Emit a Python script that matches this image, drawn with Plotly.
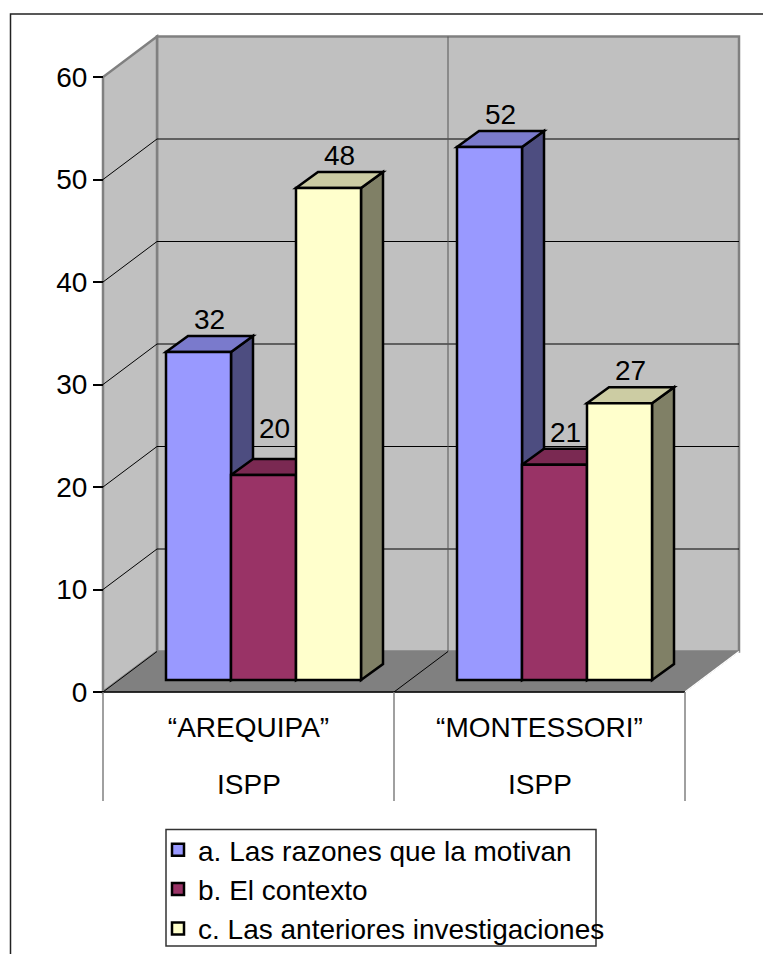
import plotly.graph_objects as go

W, H = 763, 954
categories = ["“AREQUIPA”", "“MONTESSORI”"]
subcategory = ["ISPP", "ISPP"]
series_names = ["a. Las razones que la motivan", "b. El contexto", "c. Las anteriores investigaciones"]
series_a = [32, 52]
series_b = [20, 21]
series_c = [48, 27]
y_ticks = [0, 10, 20, 30, 40, 50, 60]

front = ["#9999FF", "#993366", "#FFFFCC"]
side = ["#4D4D80", "#4D1A33", "#808066"]
top = ["#7A7ACC", "#7A2952", "#CCCCA3"]
FONT = "Liberation Sans, Arial, sans-serif"
FS = 28

# Scale of the front plane
X0, CAT_W = 103, 291      # pixel of the front-left corner, width of a category
Y0, UNIT = 692, 10.25     # pixel of value 0, pixels per value unit
DOM_L, DOM_R, DOM_B, DOM_T = 95, 746, 697, 30


def dx(p):
    return p / CAT_W


def dy(p):
    return p / UNIT


xr = [-0.5 + dx(DOM_L - X0), -0.5 + dx(DOM_R - X0)]
yr = [dy(Y0 - DOM_B), dy(Y0 - DOM_T)]
WALL_X, WALL_Y = dx(54), dy(40.5)       # wall depth
BAR_OX, BAR_OY = dx(15), dy(12)         # bar set-back from the front plane
BAR_DX, BAR_DY = dx(22), dy(16)         # bar depth
BW = dx(65)
XL, XR = -0.5, 1.5
YMAX = y_ticks[-1]


def poly(pts, fill, line="black", lw=1):
    path = "M" + "L".join(f"{x:.5f},{y:.5f}" for x, y in pts) + "Z"
    return dict(type="path", path=path, xref="x", yref="y", fillcolor=fill, layer="below",
                line=dict(color=line, width=lw))


def seg(x1, y1, x2, y2, color="black", lw=1):
    return dict(type="line", x0=x1, y0=y1, x1=x2, y1=y2, xref="x", yref="y", layer="below",
                line=dict(color=color, width=lw))


shapes = []
# Page frame and legend box
shapes.append(dict(type="rect", xref="paper", yref="paper", x0=10.5 / W, x1=1.02, y0=-0.02, y1=1 - 14 / H,
                   line=dict(color="#222222", width=1.5), fillcolor="rgba(0,0,0,0)", layer="below"))
shapes.append(dict(type="rect", xref="paper", yref="paper", x0=166 / W, x1=596 / W, y0=1 - 946 / H, y1=1 - 829.5 / H,
                   line=dict(color="#333333", width=1.5), fillcolor="white", layer="below"))
# Walls and floor
shapes.append(poly([(XL + WALL_X, WALL_Y), (XR + WALL_X, WALL_Y), (XR + WALL_X, YMAX + WALL_Y),
                    (XL + WALL_X, YMAX + WALL_Y)], "#C0C0C0", "#808080", 2.5))
shapes.append(poly([(XL, 0), (XL + WALL_X, WALL_Y), (XL + WALL_X, YMAX + WALL_Y), (XL, YMAX)],
                   "#C0C0C0", "#808080", 2.5))
shapes.append(poly([(XL, 0), (XR, 0), (XR + WALL_X, WALL_Y), (XL + WALL_X, WALL_Y)],
                   "#808080", "#808080", 1))
# Gridlines
for t in y_ticks[1:-1]:
    shapes.append(seg(XL, t, XL + WALL_X, t + WALL_Y))
    shapes.append(seg(XL + WALL_X, t + WALL_Y, XR + WALL_X, t + WALL_Y))
shapes.append(seg(0.5 + WALL_X, WALL_Y, 0.5 + WALL_X, YMAX + WALL_Y, "#555555", 1))
shapes.append(seg(XL, 0, XL + WALL_X, WALL_Y))
shapes.append(seg(0.5, 0, 0.5 + WALL_X, WALL_Y))
shapes.append(seg(XR, 0, XR + WALL_X, WALL_Y, "white", 1.5))
# Front edge and category separators
shapes.append(seg(XL, 0, XR, 0, "black", 1.5))
for xv in (XL, 0.5, XR):
    shapes.append(dict(type="line", xref="x", yref="paper", x0=xv, x1=xv, y0=1 - 801 / H, y1=1 - Y0 / H,
                       line=dict(color="#808080", width=1.5)))

all_series = [series_a, series_b, series_c]
bars = []
label_x, label_y, label_t = [], [], []
for s, vals in enumerate(all_series):
    xs = [c + (s - 1) * BW + BAR_OX for c in range(len(categories))]
    # depth faces of each bar, painted in left-to-right order under the front faces
    for x, v in zip(xs, vals):
        xa, xb = x - BW / 2, x + BW / 2
        yb, yt = BAR_OY, BAR_OY + v
        shapes.append(poly([(xb, yb), (xb + BAR_DX, yb + BAR_DY), (xb + BAR_DX, yt + BAR_DY), (xb, yt)],
                           side[s], "black", 2.5))
        shapes.append(poly([(xa, yt), (xb, yt), (xb + BAR_DX, yt + BAR_DY), (xa + BAR_DX, yt + BAR_DY)],
                           top[s], "black", 2.5))
        lift = dy(44) if (s, v) == (1, 20) else dy(30)
        label_x.append(x + dx(11))
        label_y.append(yt + lift)
        label_t.append(str(v))
    bars.append(go.Bar(x=xs, y=vals, base=BAR_OY, width=BW, name=series_names[s], legendgroup=series_names[s],
                       marker=dict(color=front[s], line=dict(color="black", width=2.5)), hoverinfo="skip"))

labels = go.Scatter(x=label_x, y=label_y, text=label_t, mode="text", textposition="middle center",
                    textfont=dict(family=FONT, size=FS, color="black"), showlegend=False,
                    hoverinfo="skip", cliponaxis=False)

fig = go.Figure(bars + [labels])
annotations = [dict(x=i, y=1 - 784 / H, xref="x", yref="paper", text=t, showarrow=False,
                    font=dict(family=FONT, size=FS, color="black"), yanchor="middle")
               for i, t in enumerate(subcategory)]
fig.update_layout(
    width=W, height=H, autosize=False, margin=dict(l=0, r=0, t=0, b=0, autoexpand=False),
    paper_bgcolor="white", plot_bgcolor="rgba(0,0,0,0)", barmode="overlay",
    font=dict(family=FONT, size=FS, color="black"),
    shapes=shapes, annotations=annotations,
    xaxis=dict(domain=[DOM_L / W, DOM_R / W], range=xr, tickmode="array", tickvals=[0, 1], ticktext=categories,
               showgrid=False, zeroline=False, showline=False, ticks="", ticklabelstandoff=11,
               tickfont=dict(family=FONT, size=FS, color="black")),
    yaxis=dict(domain=[1 - DOM_B / H, 1 - DOM_T / H], range=yr, tickmode="array", tickvals=y_ticks,
               anchor="free", position=X0 / W, showgrid=False, zeroline=False, showline=False,
               ticks="outside", ticklen=10, tickwidth=1.5, tickcolor="black",
               tickfont=dict(family=FONT, size=FS, color="black")),
    legend=dict(x=158 / W, y=1 - 825 / H, xanchor="left", yanchor="top", bgcolor="rgba(0,0,0,0)",
                tracegroupgap=6, font=dict(family=FONT, size=FS, color="black"), itemclick=False,
                traceorder="normal"),
    showlegend=True,
)
fig.write_html("out.html", config=dict(displayModeBar=False),
               post_script="document.body.style.margin='0';document.documentElement.style.overflow='hidden';")
